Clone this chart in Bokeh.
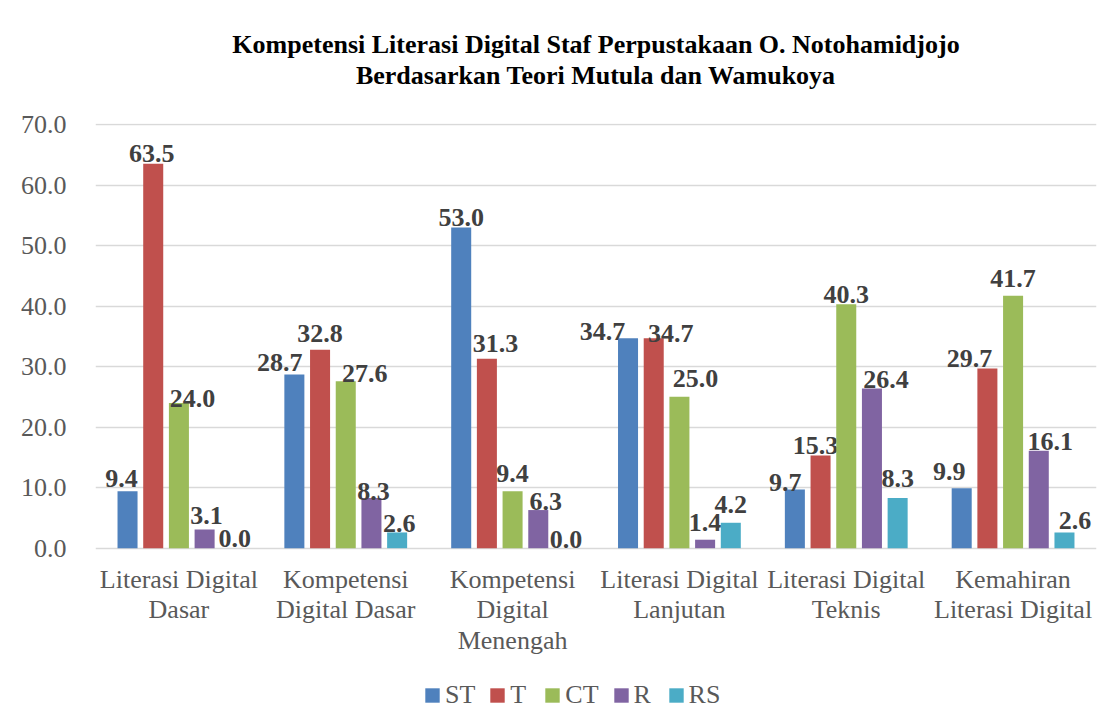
from bokeh.plotting import figure
from bokeh.models import (ColumnDataSource, FactorRange, Range1d, FixedTicker,
                          NumeralTickFormatter, Legend, LegendItem, Title)
from bokeh.transform import dodge
from bokeh.core.properties import value
from bokeh.embed import file_html
from bokeh.resources import INLINE

# ---- data ----
categories = [
    "Literasi Digital\nDasar",
    "Kompetensi\nDigital Dasar",
    "Kompetensi\nDigital\nMenengah",
    "Literasi Digital\nLanjutan",
    "Literasi Digital\nTeknis",
    "Kemahiran\nLiterasi Digital",
]
series_names = ["ST", "T", "CT", "R", "RS"]
st = [9.4, 28.7, 53.0, 34.7, 9.7, 9.9]
t = [63.5, 32.8, 31.3, 34.7, 15.3, 29.7]
ct = [24.0, 27.6, 9.4, 25.0, 40.3, 41.7]
r = [3.1, 8.3, 6.3, 1.4, 26.4, 16.1]
rs = [0.0, 2.6, 0.0, 4.2, 8.3, 2.6]
y_ticks = [0, 10, 20, 30, 40, 50, 60, 70]

title_line1 = "Kompetensi Literasi Digital Staf Perpustakaan O. Notohamidjojo"
title_line2 = "Berdasarkan Teori Mutula dan Wamukoya"

# ---- styles ----
colors = ["#4F81BD", "#C0504D", "#9BBB59", "#8064A2", "#4BACC6"]
offsets = [-0.308, -0.154, 0.0, 0.154, 0.308]
# data-label nudges in pixels (as placed in the original chart)
label_dx = [
    [-6, -14.5, 0, -25.5, -9.5, -12.5],
    [-1.5, 0, 8.5, 17, -5, -18],
    [13.5, 19, 0, 16, 0, 0],
    [2, 2, 7.5, 0, 14, 11.5],
    [4.5, 2, 2, 0, 0, 10.5],
]
label_gap = [
    [13, 12, 10, 7, 7, 17],
    [10, 16, 15, 5, 10, 10],
    [4, 8, 18, 18, 10, 17],
    [14, 6, 9, 17, 9, 9],
    [10, 9, 9, 18, 19, 12],
]
SERIF = "Liberation Serif"

# The plotting frame extends below the value axis so that the category
# axis (fixed at 0) and the legend are drawn inside it.
p = figure(
    x_range=FactorRange(*categories, range_padding=0, factor_padding=0),
    y_range=Range1d(-29.46, 70.165),
    frame_width=1001, frame_height=603,
    output_backend="svg", toolbar_location=None,
    min_border_left=95, min_border_right=20,
    min_border_top=123, min_border_bottom=0,
)
p.title = None
p.outline_line_color = None
p.background_fill_color = "white"
p.border_fill_color = "white"

# spacer between the title block and the plot area
spacer = Title(text=" ", text_font_size="10px", standoff=21)
t2 = Title(text=title_line2, align="center", offset=-29, standoff=0,
           text_font=SERIF, text_font_size="26px", text_font_style="bold",
           text_color="black")
t1 = Title(text=title_line1, align="center", offset=-29, standoff=0,
           text_font=SERIF, text_font_size="26px", text_font_style="bold",
           text_color="black")
p.add_layout(spacer, "above")
p.add_layout(t2, "above")
p.add_layout(t1, "above")

p.xgrid.grid_line_color = None
p.ygrid.grid_line_color = "#d9d9d9"
p.ygrid.grid_line_width = 1.5

p.yaxis.ticker = FixedTicker(ticks=y_ticks)
p.yaxis.formatter = NumeralTickFormatter(format="0.0")
for ax in (p.xaxis, p.yaxis):
    ax.axis_line_color = None
    ax.major_tick_line_color = None
    ax.minor_tick_line_color = None
    ax.major_label_text_font = SERIF
    ax.major_label_text_font_size = "26px"
    ax.major_label_text_color = "#595959"
p.yaxis.major_label_standoff = 23
p.xaxis.fixed_location = 0
p.xaxis.major_label_standoff = 11
p.xaxis.major_label_text_line_height = 1.04

all_series = [st, t, ct, r, rs]
items = []
for i, (name, vals) in enumerate(zip(series_names, all_series)):
    src = ColumnDataSource(dict(
        cat=categories,
        val=vals,
        lbl=[f"{v:.1f}" for v in vals],
        dx=label_dx[i],
        dy=[-g for g in label_gap[i]],
    ))
    xs = dodge("cat", offsets[i], range=p.x_range)
    rend = p.vbar(x=xs, top="val", bottom=0, width=0.12, source=src,
                  fill_color=colors[i], line_color=None)
    p.text(x=xs, y="val", text="lbl", source=src,
           x_offset="dx", y_offset="dy",
           text_align="center", text_baseline="alphabetic",
           text_font=value(SERIF), text_font_size="26px",
           text_font_style="bold", text_color="#404040")
    items.append(LegendItem(label=name, renderers=[rend]))

legend = Legend(
    items=items, orientation="horizontal", location=(328, 16),
    label_text_font=SERIF, label_text_font_size="26px",
    label_text_color="#595959",
    glyph_width=18, glyph_height=18, label_standoff=4, spacing=13,
    padding=0, margin=0, border_line_color=None, background_fill_alpha=0,
)
p.add_layout(legend, "center")

open("out.html", "w").write(file_html(p, INLINE))
